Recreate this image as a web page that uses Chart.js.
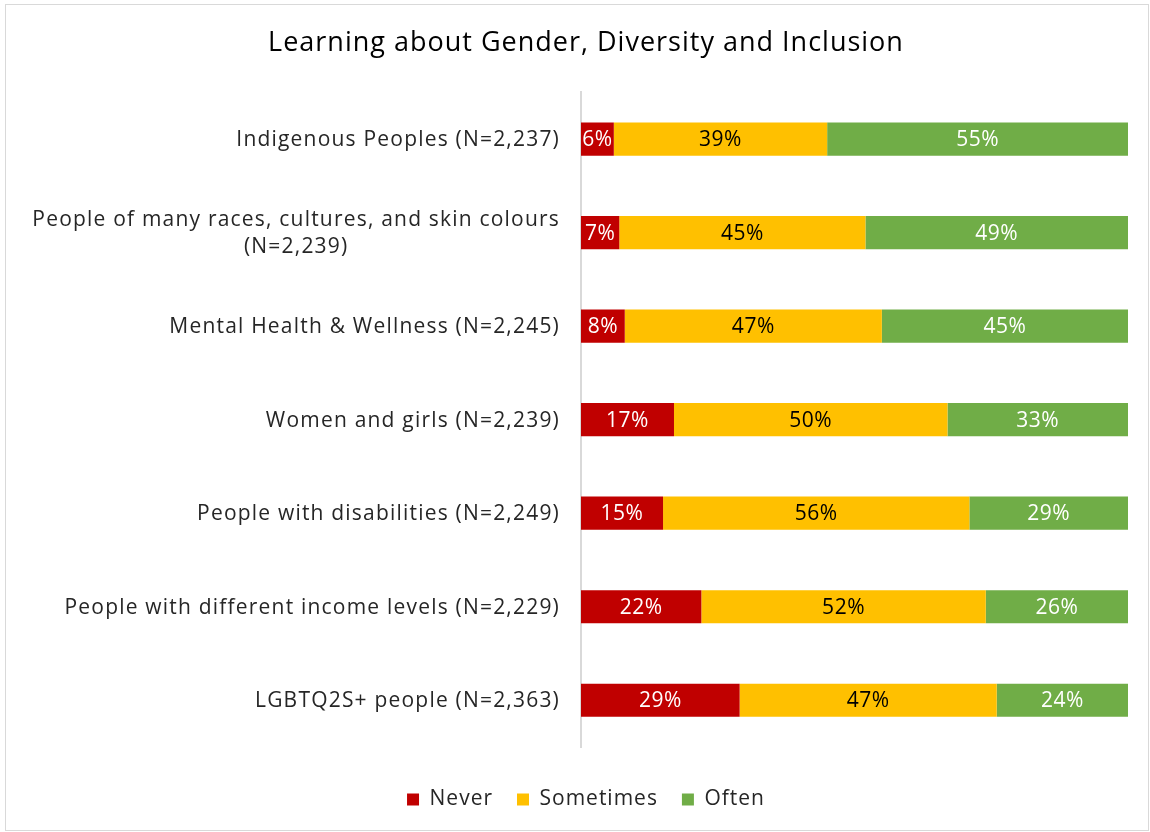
<!DOCTYPE html>
<html>
<head>
<meta charset="utf-8">
<script src="https://cdn.jsdelivr.net/npm/chart.js@4/dist/chart.umd.min.js"></script>
<style>
  html, body { margin: 0; padding: 0; background: #fff; }
  #frame {
    position: absolute;
    left: 5px;
    top: 4px;
    width: 1142px;
    height: 825px;
    border: 1px solid #d9d9d9;
  }
  canvas { display: block; }
</style>
</head>
<body>
<div id="frame"><canvas id="chart" width="1142" height="825"></canvas></div>
<script>
/* global Chart */
const categories = [
  "Indigenous Peoples (N=2,237)",
  ["People of many races, cultures, and skin colours", "(N=2,239)"],
  "Mental Health & Wellness (N=2,245)",
  "Women and girls (N=2,239)",
  "People with disabilities (N=2,249)",
  "People with different income levels (N=2,229)",
  "LGBTQ2S+ people (N=2,363)",
];
const neverValues = [6, 7, 8, 17, 15, 22, 29];
const sometimesValues = [39, 45, 47, 50, 56, 52, 47];
const oftenValues = [55, 49, 45, 33, 29, 26, 24];

const colors = new Map([
  ["NEVER", "#C00000"],
  ["SOMETIMES", "#FFC000"],
  ["OFTEN", "#70AD47"],
]);
const labelColors = ["#ffffff", "#000000", "#ffffff"];
const fontFamily = "'Open Sans', 'Lato', sans-serif";

// slightly wider letter spacing for title and legend text
const letterSpacing = {
  id: "letterSpacing",
  beforeUpdate(chart) {
    chart.ctx.letterSpacing = "1px";
  },
  beforeDraw(chart) {
    chart.ctx.letterSpacing = "1px";
  },
};

// category names drawn by hand so the wrapped one can be centred under itself
const categoryLabels = {
  id: "categoryLabels",
  afterDraw(chart) {
    const { ctx, chartArea } = chart;
    const yScale = chart.scales.y;
    const right = chartArea.left - 21;
    const lineHeight = 27;
    ctx.save();
    ctx.font = `21px ${fontFamily}`;
    ctx.letterSpacing = "1.2px";
    ctx.fillStyle = "#262626";
    ctx.textBaseline = "middle";
    categories.forEach((label, i) => {
      const y = yScale.getPixelForTick(i) + 1;
      const lines = Array.isArray(label) ? label : [label];
      const widest = Math.max(...lines.map((l) => ctx.measureText(l).width));
      const top = y - ((lines.length - 1) * lineHeight) / 2;
      lines.forEach((line, j) => {
        if (lines.length > 1) {
          ctx.textAlign = "center";
          ctx.fillText(line, right - widest / 2, top + j * lineHeight);
        } else {
          ctx.textAlign = "right";
          ctx.fillText(line, right, top);
        }
      });
    });
    ctx.restore();
  },
};

// percentage printed in the middle of each visible segment
const segmentLabels = {
  id: "segmentLabels",
  afterDatasetsDraw(chart) {
    const { ctx, chartArea } = chart;
    ctx.save();
    ctx.font = `21px ${fontFamily}`;
    ctx.letterSpacing = "0.5px";
    ctx.textAlign = "center";
    ctx.textBaseline = "middle";
    chart.data.datasets.forEach((dataset, d) => {
      const meta = chart.getDatasetMeta(d);
      ctx.fillStyle = labelColors[d];
      meta.data.forEach((bar, i) => {
        const { x, base, y } = bar.getProps(["x", "base", "y"], true);
        const end = Math.min(x, chartArea.right);
        ctx.fillText(dataset.data[i] + "%", (base + end) / 2, y + 1);
      });
    });
    ctx.restore();
  },
};

const barDataset = (label, data, color) => ({
  label: label,
  data: data,
  backgroundColor: color,
  borderColor: color,
  borderWidth: 0,
  categoryPercentage: 1.0,
  barPercentage: 0.355,
});

new Chart(document.getElementById("chart"), {
  type: "bar",
  data: {
    labels: categories,
    datasets: [
      barDataset("Never", neverValues, colors.get("NEVER")),
      barDataset("Sometimes", sometimesValues, colors.get("SOMETIMES")),
      barDataset("Often", oftenValues, colors.get("OFTEN")),
    ],
  },
  options: {
    indexAxis: "y",
    responsive: false,
    animation: false,
    layout: {
      padding: { top: 0, right: 20, bottom: 10, left: 38 },
    },
    scales: {
      x: {
        stacked: true,
        min: 0,
        max: 100,
        display: true,
        grid: { display: false },
        border: { display: false },
        ticks: { display: false },
        // empty strip between the bars and the legend
        afterFit(scale) {
          scale.height = 18;
        },
      },
      y: {
        stacked: true,
        grid: { display: false },
        border: { display: true, color: "#d9d9d9", width: 2 },
        ticks: { display: false },
        afterFit(scale) {
          scale.width = 537;
        },
      },
    },
    plugins: {
      title: {
        display: true,
        text: "Learning about Gender, Diversity and Inclusion",
        color: "#000000",
        font: { family: fontFamily, size: 27, weight: "normal" },
        padding: { top: 22, bottom: 33 },
      },
      legend: {
        display: true,
        position: "bottom",
        labels: {
          boxWidth: 12,
          boxHeight: 12,
          padding: 24,
          color: "#262626",
          font: { family: fontFamily, size: 21 },
        },
      },
      tooltip: { enabled: false },
    },
  },
  plugins: [letterSpacing, categoryLabels, segmentLabels],
});
</script>
</body>
</html>
